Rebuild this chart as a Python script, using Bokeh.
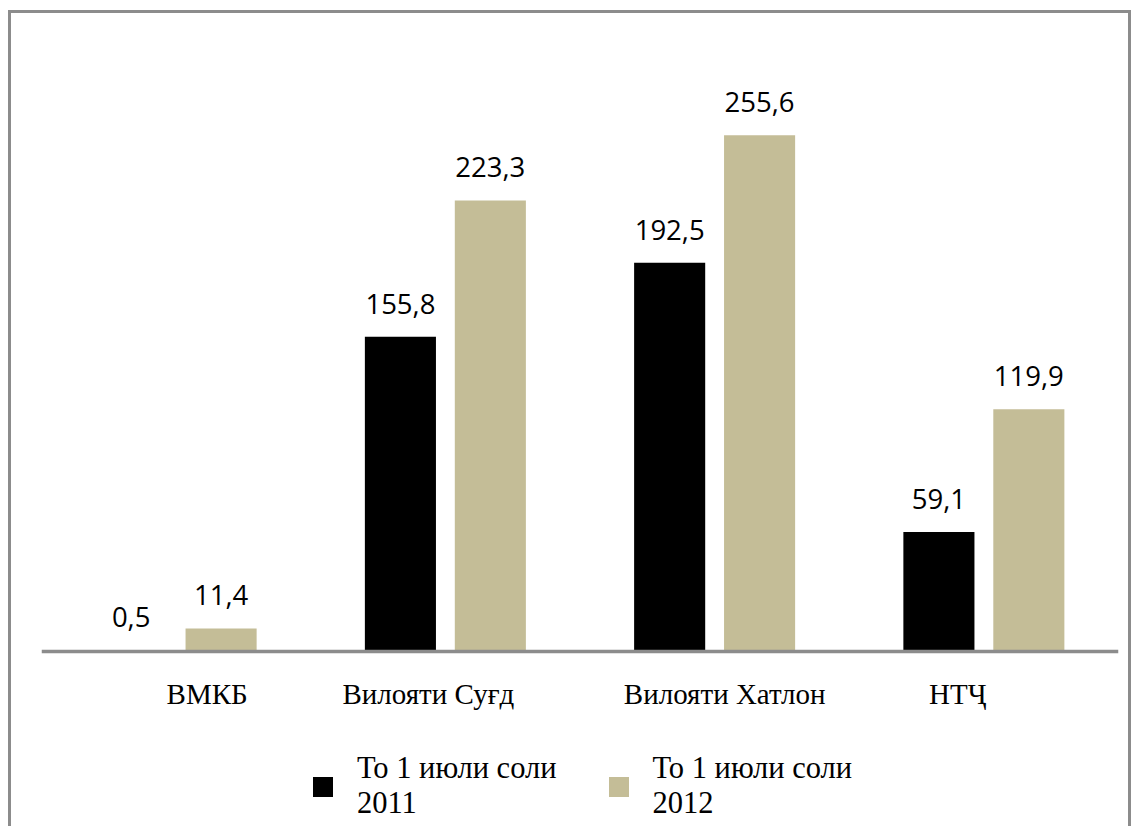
from bokeh.plotting import figure
from bokeh.models import ColumnDataSource, Legend, LegendItem, FactorRange, Range1d
from bokeh.transform import dodge
from bokeh.core.properties import value
from bokeh.embed import file_html
from bokeh.resources import INLINE

categories = ["ВМКБ", "Вилояти Суғд", "Вилояти Хатлон", "НТҶ"]
values_2011 = [0.5, 155.8, 192.5, 59.1]
values_2012 = [11.4, 223.3, 255.6, 119.9]
series_names = ["То 1 июли соли\n2011", "То 1 июли соли\n2012"]
colors = ["#000000", "#C4BD97"]
# horizontal nudges (px) of the category captions, as placed in the original
label_nudge = [31, -17, 10, -26]

def fmt(v):
    return f"{v:.1f}".replace(".", ",")

src = ColumnDataSource(dict(
    cat=categories,
    v2011=values_2011,
    v2012=values_2012,
    t2011=[fmt(v) for v in values_2011],
    t2012=[fmt(v) for v in values_2012],
    dx=label_nudge,
))

p = figure(
    x_range=FactorRange(*categories, range_padding=0),
    y_range=Range1d(-88.2, 315.9),
    width=1123, height=816,
    output_backend="svg", toolbar_location=None,
    min_border_left=30, min_border_right=16, min_border_top=0, min_border_bottom=0,
)
p.styles = {
    "border-left": "3px solid #8C8C8C",
    "border-right": "3px solid #8C8C8C",
    "border-top": "3px solid #8C8C8C",
    "margin-left": "8px",
    "margin-top": "10px",
}
p.outline_line_color = None
p.xgrid.visible = False
p.ygrid.visible = False
p.yaxis.visible = False

off = 0.167
w = 0.264
r1 = p.vbar(x=dodge("cat", -off, range=p.x_range), top="v2011", width=w, source=src,
            fill_color=colors[0], line_color=None)
r2 = p.vbar(x=dodge("cat", off, range=p.x_range), top="v2012", width=w, source=src,
            fill_color=colors[1], line_color=None)

for col, d in (("t2011", -off), ("t2012", off)):
    ycol = "v2011" if col == "t2011" else "v2012"
    p.text(x=dodge("cat", d, range=p.x_range), y=ycol, text=col, source=src,
           text_align="center", text_baseline="alphabetic", y_offset=-33,
           text_font=value("Open Sans"), text_font_size="27.5px", text_color="#000000")

# category captions under the baseline
p.text(x="cat", y=0, text="cat", source=src, x_offset="dx", y_offset=43,
       text_align="center", text_baseline="alphabetic",
       text_font=value("Liberation Serif"), text_font_size="29px", text_color="#000000")

ax = p.xaxis[0]
ax.fixed_location = 0
ax.axis_line_color = "#8C8C8C"
ax.axis_line_width = 3.5
ax.major_tick_line_color = None
ax.minor_tick_line_color = None
ax.major_label_text_color = None
ax.major_label_text_font_size = "1px"

legend = Legend(items=[LegendItem(label=series_names[0], renderers=[r1]),
                       LegendItem(label=series_names[1], renderers=[r2])],
                orientation="horizontal", location=(269, 8),
                glyph_width=25, glyph_height=25, label_standoff=22, spacing=49,
                label_text_font="Liberation Serif", label_text_font_size="30.5px",
                label_text_color="#000000",
                border_line_color=None, background_fill_alpha=0, margin=0, padding=0)
p.add_layout(legend)

open("out.html", "w").write(file_html(p, INLINE))
